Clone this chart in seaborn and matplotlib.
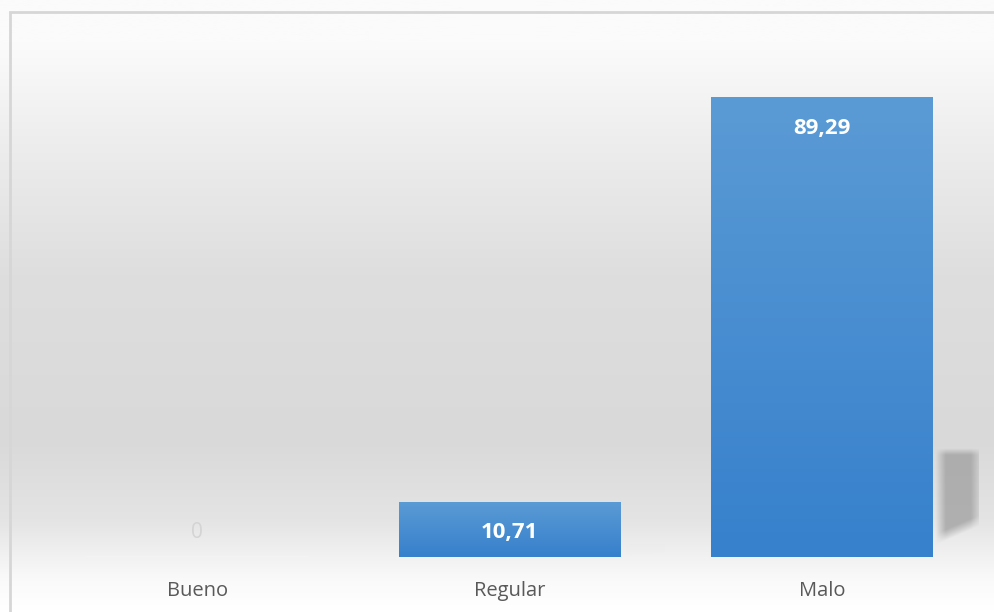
import matplotlib.pyplot as plt
import matplotlib.colors as mcolors
from matplotlib.patches import Rectangle
import numpy as np
import pandas as pd
import seaborn as sns

categorias = ["Bueno", "Regular", "Malo"]
porcentajes = [0, 10.71, 89.29]
etiquetas = ["0", "10,71", "89,29"]

df = pd.DataFrame({"categoria": categorias, "porcentaje": porcentajes})

sns.set_theme(style="white")
plt.rcParams["font.family"] = ["Open Sans", "DejaVu Sans"]

fig = plt.figure(figsize=(9.95, 6.12), dpi=100)

# fondo con degradado vertical (estilo Excel)
bg = fig.add_axes([0, 0, 1, 1], zorder=-2)
stops = [(0.0, "#fbfbfb"), (0.07, "#fbfbfb"), (0.22, "#eeeeee"), (0.45, "#dedede"),
         (0.72, "#d9d9d9"), (0.85, "#e4e4e4"), (0.95, "#fafafa"), (1.0, "#ffffff")]
cmap_bg = mcolors.LinearSegmentedColormap.from_list("bg", stops)
grad = np.linspace(0, 1, 512).reshape(-1, 1)
bg.imshow(grad, aspect="auto", cmap=cmap_bg, extent=[0, 1, 0, 1], origin="upper")
bg.add_patch(Rectangle((10 / 995, -0.1), 1.2, 1 - 12 / 612 + 0.1, fill=False,
                       edgecolor="#d6d6d6", linewidth=2, transform=bg.transAxes))
bg.set_xlim(0, 1)
bg.set_ylim(0, 1)
bg.axis("off")

ax = fig.add_axes([0.0412, 0.0899, 0.9418, 0.8411])
ax.set_facecolor("none")

sns.barplot(data=df, x="categoria", y="porcentaje", color="#4a8fd4",
            width=0.71, ax=ax, zorder=2)

cmap_bar = mcolors.LinearSegmentedColormap.from_list("bar", ["#3680cc", "#5b9bd5"])

# sombra suave (alfa 2D)
u = np.linspace(0, 1, 80)[None, :]
v = np.linspace(0, 1, 160)[:, None]
a_h = np.clip((u - 0.05) / 0.2, 0, 1) * np.clip((1.0 - u) / 0.25, 0, 1)
a_v = np.clip((v - (0.1 + 0.2 * u)) / 0.1, 0, 1) * np.clip((1 - v) / 0.06, 0, 1)
alpha_sh = a_h * a_v

vmax = max(porcentajes)
for patch, val in zip(ax.patches, porcentajes):
    x0, y0 = patch.get_x(), patch.get_y()
    w, h = patch.get_width(), patch.get_height()
    if h <= 0:
        continue
    patch.set_facecolor("none")
    patch.set_edgecolor("none")
    img = ax.imshow(np.linspace(0, 1, 256).reshape(-1, 1), cmap=cmap_bar,
                    extent=[x0, x0 + w, y0, y0 + h], origin="lower",
                    aspect="auto", zorder=2)
    img.set_clip_path(patch)
    xr = x0 + w
    top = 0.235 * val
    rgba = np.zeros(alpha_sh.shape + (4,))
    rgba[..., :3] = 0.62
    rgba[..., 3] = alpha_sh * 0.75 * (val / vmax) ** 2
    ax.imshow(rgba, extent=[xr, xr + 0.16, 0, top], origin="lower",
              aspect="auto", zorder=1)

for i, (val, txt) in enumerate(zip(porcentajes, etiquetas)):
    if val > 0:
        ax.text(i, val - 6, txt, ha="center", va="center", color="white",
                fontsize=16, fontweight="bold", zorder=3)
    else:
        ax.text(i, 4.7, txt, ha="center", va="center", color="#d4d4d4",
                fontsize=15, zorder=3)

ax.set_xlim(-0.5, 2.5)
ax.set_ylim(0, 100)
ax.set_xlabel("")
ax.set_ylabel("")
ax.set_yticks([])
ax.tick_params(axis="x", length=0, pad=17, labelsize=14.5, labelcolor="#595959")
for s in ax.spines.values():
    s.set_visible(False)

fig.savefig("out.png", dpi=100)
